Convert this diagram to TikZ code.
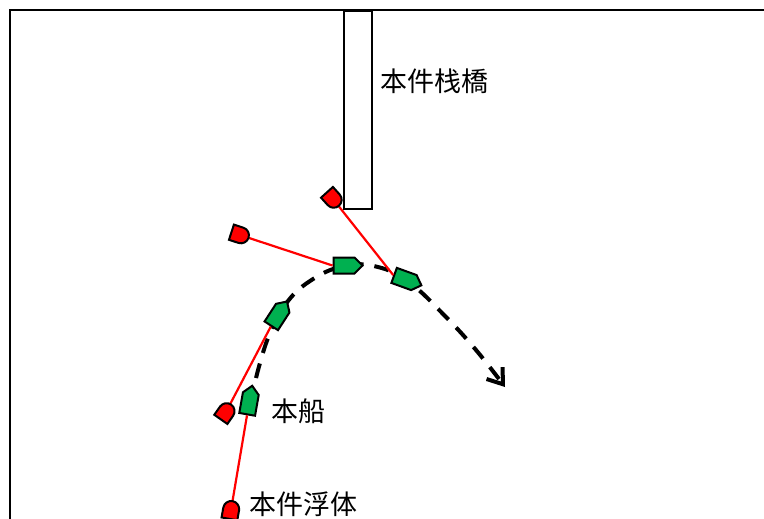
\documentclass[tikz,border=0pt]{standalone}
\usepackage{fontspec}
\newfontfamily\cjk{Noto Sans CJK SC}
\usetikzlibrary{shapes.symbols,shapes.misc,arrows.meta}
\definecolor{shipgreen}{RGB}{0,176,80}
\begin{document}
\begin{tikzpicture}[x=1pt,y=-1pt,
  ship/.style={signal, signal to=east, draw=black, fill=shipgreen, line width=2pt,
    minimum width=29pt, minimum height=16pt, inner sep=0pt},
  buoy/.style={rounded rectangle, rounded rectangle west arc=none, draw=black, fill=red,
    line width=2pt, minimum width=18pt, minimum height=16pt, inner sep=0pt},
  mooring/.style={red, line width=2.2pt},
  course/.style={line width=4pt, dash pattern=on 15pt off 11pt,
    -{Straight Barb[length=14pt,width=20pt]}},
  txt/.style={font=\cjk\fontsize{27pt}{30pt}\selectfont, inner sep=0pt, anchor=west}]
\useasboundingbox (0,0) rectangle (764,519);
% frame
\draw[line width=2pt] (10,519) -- (10,10) -- (764,10);
% pier
\node[draw, line width=2pt, minimum width=28pt, minimum height=198pt, inner sep=0pt] (pier) at (358,110) {};
\node[txt] (pierlabel) at (380,81) {本件栈橋};
% course
\draw[course] plot[smooth, tension=0.7] coordinates {(256,378) (268,338) (285,305) (310,281) (344,266) (378,267) (410,283) (445,316) (476,350) (505,387)};
% ships
\node[ship, rotate=0]   (shipA) at (344,265.5) {};
\node[ship, rotate=-20] (shipB) at (404,279) {};
\node[ship, rotate=57]  (shipC) at (277,317) {};
\node[ship, rotate=80]  (shipD) at (249,404) {};
% buoys
\coordinate (c1) at (333,199);
\coordinate (c2) at (240,235);
\coordinate (c4) at (226,412);
\coordinate (c5) at (231,510);
\draw[mooring] (c1) -- (shipB.west);
\draw[mooring] (c2) -- (shipA.west);
\draw[mooring] (c4) -- (shipC.west);
\draw[mooring] (c5) -- (shipD.west);
\node[buoy, rotate=-48] (b1) at (c1) {};
\node[buoy, rotate=-18] (b2) at (c2) {};
\node[buoy, rotate=55]  (b4) at (c4) {};
\node[buoy, rotate=80]  (b5) at (c5) {};
% labels
\node[txt] (shiplabel) at (271,411) {本船};
\node[txt] (floatlabel) at (249,504) {本件浮体};
\end{tikzpicture}
\end{document}
